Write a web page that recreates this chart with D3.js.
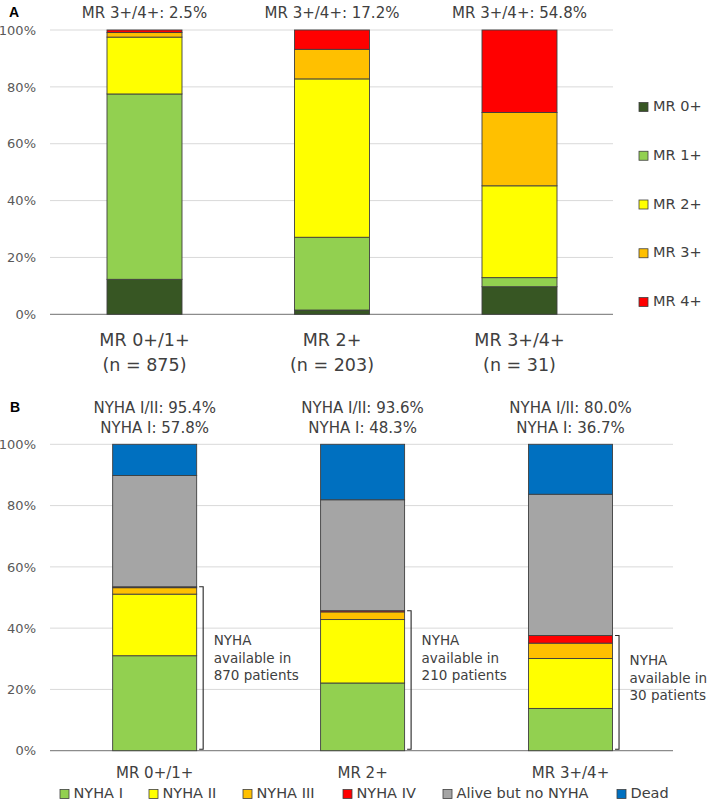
<!DOCTYPE html>
<html><head><meta charset="utf-8">
<script src="https://cdn.jsdelivr.net/npm/d3@7"></script>
<style>
html,body{margin:0;padding:0;background:#fff;}
svg{display:block;font-family:"DejaVu Sans",sans-serif;}
</style></head>
<body>
<svg id="chart" width="709" height="802"></svg>
<script>
// ---------- Data ----------
const categories = ["MR 0+/1+", "MR 2+", "MR 3+/4+"];
const nLabels = ["(n = 875)", "(n = 203)", "(n = 31)"];
const tickValues = [0, 20, 40, 60, 80, 100];

// Panel A: MR grade at follow-up (%)
const seriesA = ["MR 0+", "MR 1+", "MR 2+", "MR 3+", "MR 4+"];
const mr0 = [12.3, 1.5, 9.7];
const mr1 = [65.2, 25.6, 3.2];
const mr2 = [20.0, 55.7, 32.3];
const mr3 = [1.6, 10.4, 25.8];
const mr4 = [0.9, 6.8, 29.0];
const titlesA = ["MR 3+/4+: 2.5%", "MR 3+/4+: 17.2%", "MR 3+/4+: 54.8%"];
const colorsA = ["#375623", "#92D050", "#FFFF00", "#FFC000", "#FF0000"];

// Panel B: NYHA class at follow-up (%)
const seriesB = ["NYHA I", "NYHA II", "NYHA III", "NYHA IV", "Alive but no NYHA", "Dead"];
const nyha1 = [31.0, 22.1, 13.8];
const nyha2 = [20.1, 20.7, 16.3];
const nyha3 = [2.1, 2.5, 5.0];
const nyha4 = [0.3, 0.4, 2.5];
const aliveNoNyha = [36.3, 36.2, 46.1];
const dead = [10.2, 18.1, 16.3];
const titlesB1 = ["NYHA I/II: 95.4%", "NYHA I/II: 93.6%", "NYHA I/II: 80.0%"];
const titlesB2 = ["NYHA I: 57.8%", "NYHA I: 48.3%", "NYHA I: 36.7%"];
const nyhaAvailable = [870, 210, 30];
const noteCenterPct = [30, 30, 23.5];
const colorsB = ["#92D050", "#FFFF00", "#FFC000", "#FF0000", "#A5A5A5", "#0070C0"];

// ---------- Drawing ----------
const svg = d3.select("#chart");
const textCol = "#404040";
const tickCol = "#595959";

function buildRows(arrs) {
  return categories.map((c, i) => {
    const r = { cat: c };
    arrs.forEach((a, k) => r["s" + k] = a[i]);
    return r;
  });
}

function drawPanel(opts) {
  const { rows, nSeries, colors, x, y, gridX0, gridX1 } = opts;
  const g = svg.append("g");
  g.selectAll("line.grid").data(tickValues).join("line")
    .attr("x1", gridX0).attr("x2", gridX1)
    .attr("y1", d => y(d)).attr("y2", d => y(d))
    .attr("stroke", d => d === 0 ? "#8c8c8c" : "#d9d9d9")
    .attr("stroke-width", d => d === 0 ? 1.2 : 1);
  const ax = d3.axisLeft(y).tickValues(tickValues).tickSize(0).tickPadding(0)
    .tickFormat(d => d + "%");
  const axg = g.append("g").attr("transform", `translate(${opts.axisX},0)`).call(ax);
  axg.select(".domain").remove();
  axg.selectAll("text").attr("fill", tickCol).style("font-size", "13px")
    .style("font-family", '"DejaVu Sans",sans-serif');
  const keys = d3.range(nSeries).map(k => "s" + k);
  const stack = d3.stack().keys(keys)(rows);
  g.selectAll("g.layer").data(stack).join("g")
    .attr("fill", (d, i) => colors[i])
    .selectAll("rect").data(d => d).join("rect")
    .attr("x", d => x(d.data.cat))
    .attr("width", x.bandwidth())
    .attr("y", d => y(d[1]))
    .attr("height", d => Math.max(0, y(d[0]) - y(d[1])))
    .attr("stroke", "#3f3f3f").attr("stroke-width", 0.9);
  return g;
}

// Panel A
const xA = d3.scaleBand().domain(categories).range([50.75, 613.25]).paddingInner(0.6).paddingOuter(0.3);
const yA = d3.scaleLinear().domain([0, 100]).range([314.3, 30]);
drawPanel({ rows: buildRows([mr0, mr1, mr2, mr3, mr4]), nSeries: 5, colors: colorsA,
  x: xA, y: yA, gridX0: 50, gridX1: 613, axisX: 36 });

svg.append("text").attr("x", 9).attr("y", 13).text("A")
  .attr("font-weight", "bold").attr("font-size", 14).attr("fill", "#000")
  .attr("font-family", "Arial, Liberation Sans, sans-serif").attr("dominant-baseline", "middle");

svg.selectAll("text.titleA").data(categories).join("text")
  .attr("x", d => xA(d) + xA.bandwidth() / 2).attr("y", 13)
  .attr("text-anchor", "middle").attr("dominant-baseline", "middle")
  .attr("font-size", 15).attr("fill", textCol)
  .text((d, i) => titlesA[i]);

svg.selectAll("text.catA").data(categories).join("text")
  .attr("x", d => xA(d) + xA.bandwidth() / 2).attr("y", 341)
  .attr("text-anchor", "middle").attr("dominant-baseline", "middle")
  .attr("font-size", 17.5).attr("fill", textCol).text(d => d);
svg.selectAll("text.nA").data(categories).join("text")
  .attr("x", d => xA(d) + xA.bandwidth() / 2).attr("y", 366)
  .attr("text-anchor", "middle").attr("dominant-baseline", "middle")
  .attr("font-size", 17.5).attr("fill", textCol).text((d, i) => nLabels[i]);

// Legend A
const legA = svg.append("g");
const legAy = d3.scalePoint().domain(seriesA).range([107, 302]);
seriesA.forEach((s, i) => {
  legA.append("rect").attr("x", 639).attr("y", legAy(s) - 4.5).attr("width", 9).attr("height", 9)
    .attr("fill", colorsA[i]).attr("stroke", "#404040").attr("stroke-width", 0.8);
  legA.append("text").attr("x", 653).attr("y", legAy(s)).attr("dominant-baseline", "middle")
    .attr("font-size", 14.5).attr("fill", textCol).text(s);
});

// Panel B
const xB = d3.scaleBand().domain(categories).range([50.7, 674.5]).paddingInner(0.596).paddingOuter(0.298);
const yB = d3.scaleLinear().domain([0, 100]).range([750.7, 444.3]);
drawPanel({ rows: buildRows([nyha1, nyha2, nyha3, nyha4, aliveNoNyha, dead]), nSeries: 6, colors: colorsB,
  x: xB, y: yB, gridX0: 50, gridX1: 673, axisX: 36 });

svg.append("text").attr("x", 10).attr("y", 408).text("B")
  .attr("font-weight", "bold").attr("font-size", 14).attr("fill", "#000")
  .attr("font-family", "Arial, Liberation Sans, sans-serif").attr("dominant-baseline", "middle");

svg.selectAll("text.titleB1").data(categories).join("text")
  .attr("x", d => xB(d) + xB.bandwidth() / 2).attr("y", 408)
  .attr("text-anchor", "middle").attr("dominant-baseline", "middle")
  .attr("font-size", 15).attr("fill", textCol).text((d, i) => titlesB1[i]);
svg.selectAll("text.titleB2").data(categories).join("text")
  .attr("x", d => xB(d) + xB.bandwidth() / 2).attr("y", 428)
  .attr("text-anchor", "middle").attr("dominant-baseline", "middle")
  .attr("font-size", 15).attr("fill", textCol).text((d, i) => titlesB2[i]);

svg.selectAll("text.catB").data(categories).join("text")
  .attr("x", d => xB(d) + xB.bandwidth() / 2).attr("y", 773)
  .attr("text-anchor", "middle").attr("dominant-baseline", "middle")
  .attr("font-size", 15).attr("fill", textCol).text(d => d);

// Brackets + notes
categories.forEach((c, i) => {
  const total = nyha1[i] + nyha2[i] + nyha3[i] + nyha4[i];
  const bx = xB(c) + xB.bandwidth() + 6.5;
  const yTop = yB(total), yBot = yB(0) - 1.5;
  svg.append("path")
    .attr("d", `M${bx - 4},${yTop} H${bx} V${yBot} H${bx - 4}`)
    .attr("fill", "none").attr("stroke", "#262626").attr("stroke-width", 1.1);
  const lines = ["NYHA", "available in", nyhaAvailable[i] + " patients"];
  const cy = yB(noteCenterPct[i]);
  svg.append("g").selectAll("text").data(lines).join("text")
    .attr("x", bx + 10.5).attr("y", (d, k) => cy + (k - 1) * 17.7)
    .attr("dominant-baseline", "middle").attr("font-size", 13.5).attr("fill", textCol)
    .text(d => d);
});

// Legend B
const legBx = [60, 149, 243, 343, 443, 617];
const legB = svg.append("g");
seriesB.forEach((s, i) => {
  legB.append("rect").attr("x", legBx[i]).attr("y", 789.5).attr("width", 9).attr("height", 9)
    .attr("fill", colorsB[i]).attr("stroke", "#404040").attr("stroke-width", 0.8);
  legB.append("text").attr("x", legBx[i] + 13.5).attr("y", 794).attr("dominant-baseline", "middle")
    .attr("font-size", 14.5).attr("fill", textCol).text(s);
});
</script>
</body></html>
